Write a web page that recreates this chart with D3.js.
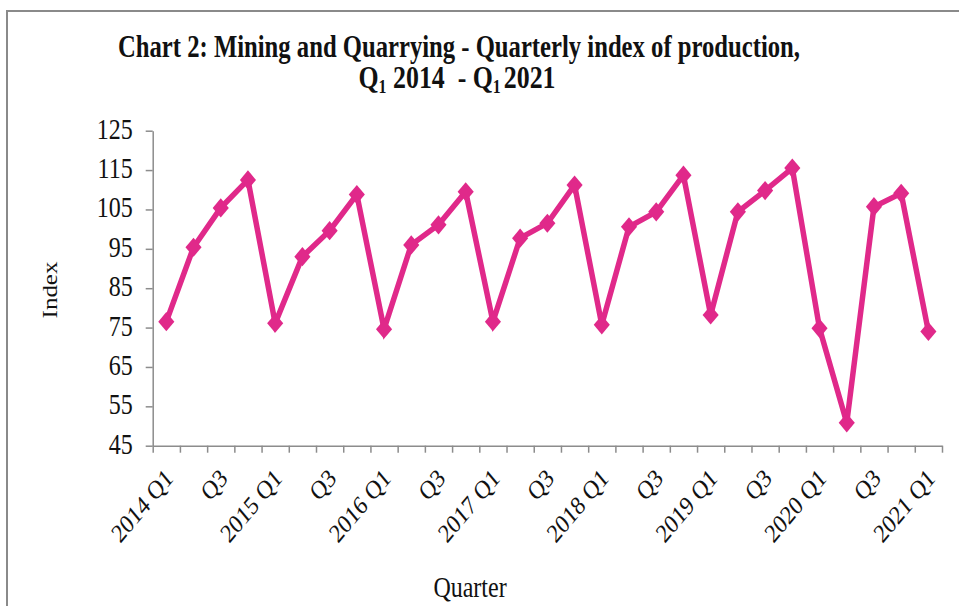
<!DOCTYPE html>
<html><head><meta charset="utf-8">
<script src="https://cdn.jsdelivr.net/npm/d3@7"></script>
<style>body{margin:0;background:#fff}svg{display:block}</style>
</head><body><svg id="c" width="959" height="606"></svg>
<script>
const quarters = [
  "2014 Q1","2014 Q2","2014 Q3","2014 Q4",
  "2015 Q1","2015 Q2","2015 Q3","2015 Q4",
  "2016 Q1","2016 Q2","2016 Q3","2016 Q4",
  "2017 Q1","2017 Q2","2017 Q3","2017 Q4",
  "2018 Q1","2018 Q2","2018 Q3","2018 Q4",
  "2019 Q1","2019 Q2","2019 Q3","2019 Q4",
  "2020 Q1","2020 Q2","2020 Q3","2020 Q4",
  "2021 Q1"
];
const values = [
  76.5, 95.4, 105.4, 112.5,
  76.1, 93.0, 99.6, 108.8,
  74.6, 96.0, 101.1, 109.5,
  76.5, 97.7, 101.5, 111.2,
  75.7, 100.6, 104.4, 113.7,
  78.2, 104.4, 109.8, 115.5,
  74.8, 50.8, 105.7, 109.1,
  74.0
];
const xTickLabels = [
  "2014 Q1","","Q3","",
  "2015 Q1","","Q3","",
  "2016 Q1","","Q3","",
  "2017 Q1","","Q3","",
  "2018 Q1","","Q3","",
  "2019 Q1","","Q3","",
  "2020 Q1","","Q3","",
  "2021 Q1"
];
const yTicks = [45, 55, 65, 75, 85, 95, 105, 115, 125];
const titleLine1 = "Chart 2: Mining and Quarrying - Quarterly index of production,";
const xTitle = "Quarter";
const yTitle = "Index";

const SY = 1.19; // vertical stretch of the original picture
const serif = "'Liberation Serif','Times New Roman',serif";
const lineColor = "#E0298A";
const axisColor = "#8c8c8c";

const svg = d3.select("#c");
const L = 152.7, R = 942, T = 130.7, B = 445.7;

// outer frame
svg.append("path").attr("d", `M7,606 V11 H959`).attr("fill","none")
  .attr("stroke","#8a8a8a").attr("stroke-width",2);

const x = d3.scaleBand().domain(quarters).range([L, R]).paddingInner(0).paddingOuter(0);
const xIdx = d3.scaleLinear().domain([0, quarters.length]).range([L, R]);
const y = d3.scaleLinear().domain([45, 125]).range([B, T]);

function stxt(g, px, py, txt, rot, anchor, size, weight) {
  return g.append("text")
    .attr("transform", `translate(${px},${py}) scale(1,${SY})` + (rot ? ` rotate(${rot})` : ""))
    .attr("text-anchor", anchor).attr("font-family", serif)
    .attr("font-size", size).attr("font-weight", weight || "normal")
    .attr("fill", "#111").text(txt);
}

// y axis
const gy = svg.append("g").attr("transform", `translate(${L},0)`)
  .call(d3.axisLeft(y).tickValues(yTicks).tickSize(7).tickSizeOuter(0).tickFormat(""));
gy.selectAll("path,line").attr("stroke", axisColor).attr("stroke-width", 1.5);
yTicks.forEach(v => {
  stxt(svg, L - 20, y(v) + 8, String(v), 0, "end", 24);
});

// x axis
const gx = svg.append("g").attr("transform", `translate(0,${B})`)
  .call(d3.axisBottom(xIdx).tickValues(d3.range(quarters.length + 1)).tickSize(7).tickSizeOuter(0).tickFormat(""));
gx.selectAll("path,line").attr("stroke", axisColor).attr("stroke-width", 1.5);
quarters.forEach((q, i) => {
  if (!xTickLabels[i]) return;
  stxt(svg, x(q) + x.bandwidth() / 2 + 8, B + 34, xTickLabels[i], -45, "end", 22);
});

// axis titles
stxt(svg, 470, 597, xTitle, 0, "middle", 24);
stxt(svg, 57, 290, yTitle, -90, "middle", 21);

// title
const t1 = stxt(svg, 459, 57, titleLine1, 0, "middle", 26, "bold");
t1.attr("textLength", 682).attr("lengthAdjust", "spacingAndGlyphs");
const t2 = svg.append("text")
  .attr("transform", `translate(457,88) scale(1,${SY})`)
  .attr("text-anchor", "middle").attr("font-family", serif)
  .attr("font-size", 26).attr("font-weight", "bold").attr("fill", "#111")
  .attr("xml:space", "preserve").style("white-space", "pre")
  .attr("textLength", 197).attr("lengthAdjust", "spacingAndGlyphs");
t2.append("tspan").text("Q");
t2.append("tspan").attr("font-size", 16).attr("dy", 4).text("1");
t2.append("tspan").attr("dy", -4).text(" 2014  - Q");
t2.append("tspan").attr("font-size", 16).attr("dy", 4).text("1");
t2.append("tspan").attr("dy", -4).attr("dx", 3).text("2021");

// line + markers
const cx = (q) => x(q) + x.bandwidth() / 2;
const line = d3.line().x((d, i) => cx(quarters[i])).y(d => y(d));
svg.append("path").datum(values).attr("d", line)
  .attr("fill", "none").attr("stroke", lineColor).attr("stroke-width", 5.5)
  .attr("stroke-linejoin", "miter");
svg.append("g").selectAll("path").data(values).join("path")
  .attr("transform", (d, i) => `translate(${cx(quarters[i])},${y(d)}) scale(1,${SY}) rotate(45)`)
  .attr("d", d3.symbol(d3.symbolSquare, 130)())
  .attr("fill", lineColor);
</script></body></html>
